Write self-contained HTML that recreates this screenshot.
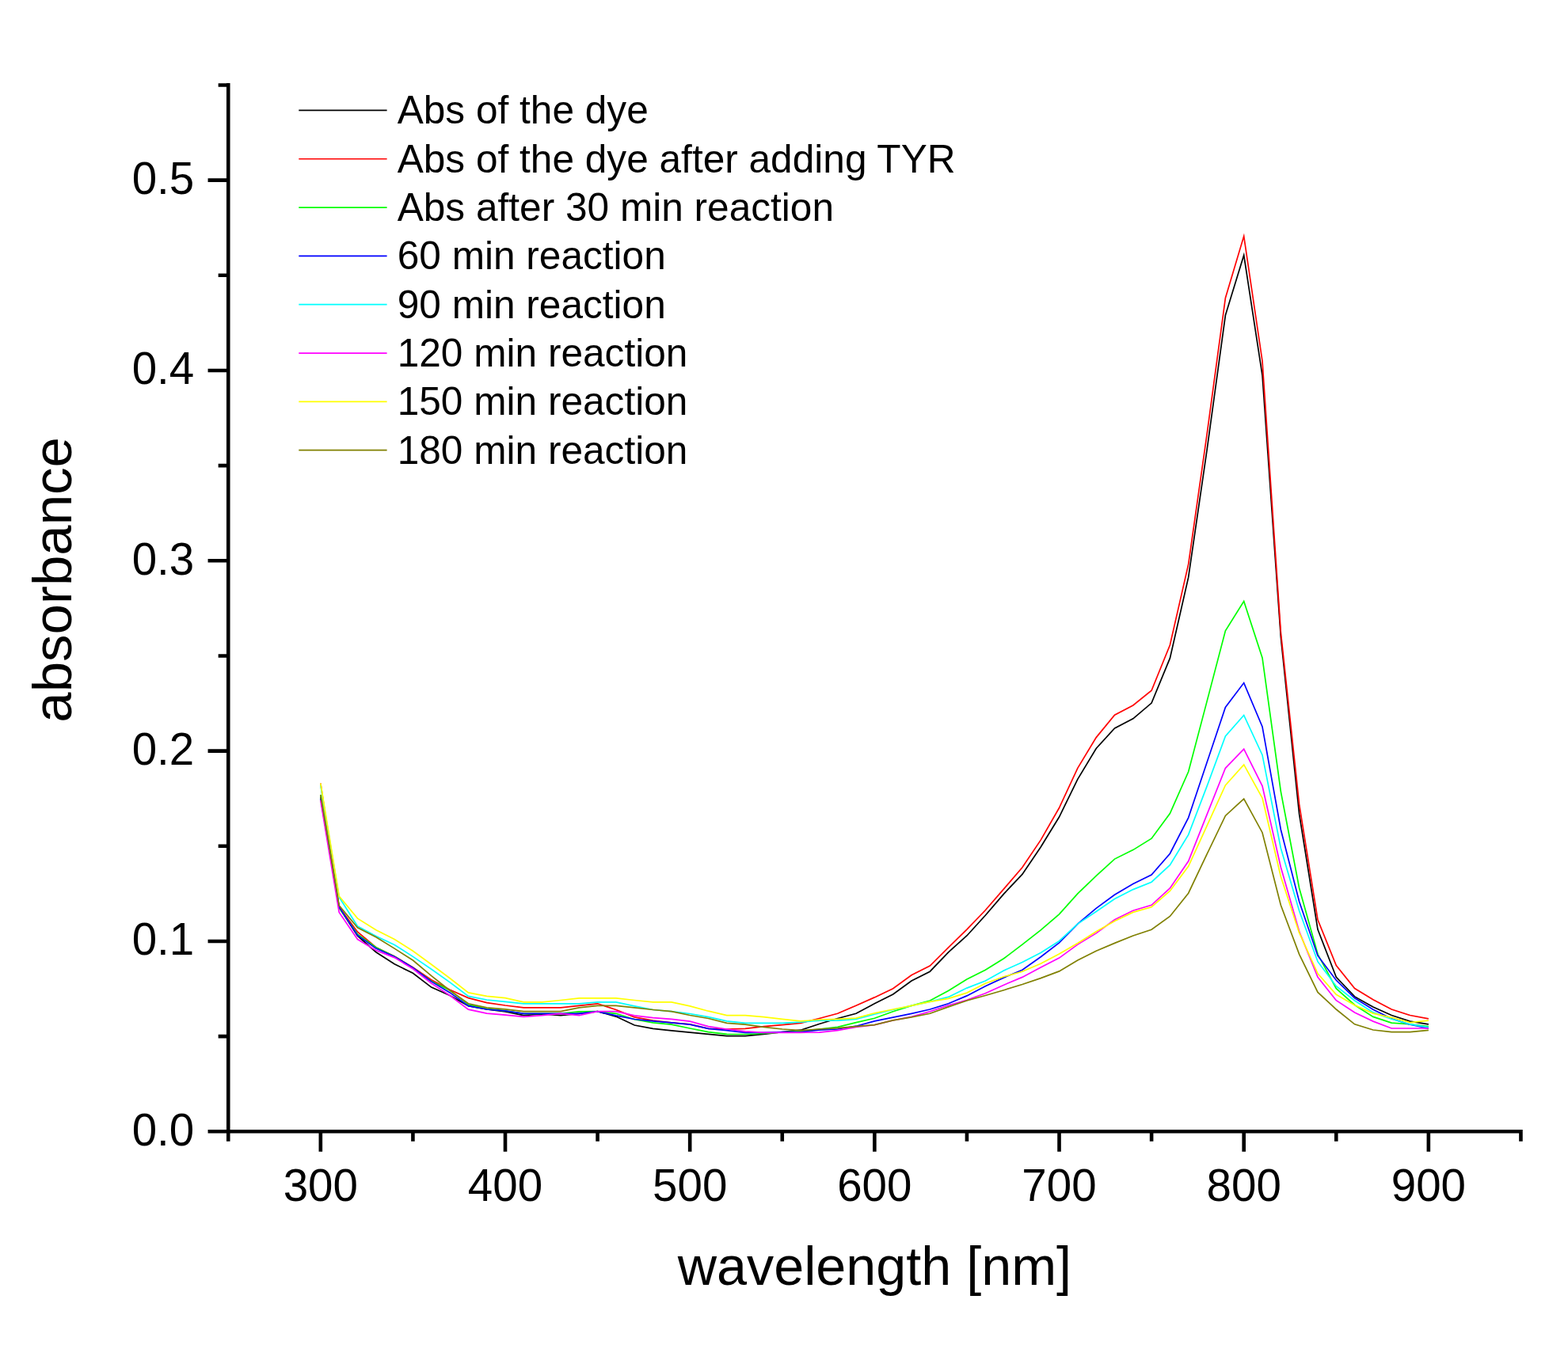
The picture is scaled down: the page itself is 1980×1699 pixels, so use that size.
<!DOCTYPE html><html><head><meta charset="utf-8"><title>absorbance vs wavelength</title><style>html,body{margin:0;padding:0;background:#fff;}svg{display:block;}text{font-family:'Liberation Sans', Arial, Helvetica, sans-serif;fill:#000;}</style></head><body>
<svg width="1980" height="1699" viewBox="0 0 1980 1699">
<rect width="1980" height="1699" fill="#fff"/>
<g fill="none" stroke-width="1.7" stroke-linejoin="miter" stroke-miterlimit="10">
<polyline stroke="#000000" points="404.8,1006.3 428.2,1146.2 451.5,1182.2 474.8,1202.7 498.1,1217.8 521.4,1229.3 544.7,1247.1 568.1,1257.5 591.4,1270.7 614.7,1275.0 638.0,1277.9 661.3,1282.7 684.6,1281.0 708.0,1282.7 731.3,1280.3 754.6,1277.7 777.9,1284.1 801.2,1295.0 824.5,1299.3 847.9,1301.9 871.2,1304.1 894.5,1306.3 917.8,1308.7 941.1,1308.7 964.4,1306.3 987.8,1303.6 1011.1,1301.2 1034.4,1293.5 1057.7,1286.5 1081.0,1280.3 1104.3,1267.8 1127.7,1256.0 1151.0,1239.0 1174.3,1227.2 1197.6,1202.9 1220.9,1182.0 1244.3,1156.3 1267.6,1129.1 1290.9,1104.4 1314.2,1070.0 1337.5,1032.0 1360.8,984.4 1384.2,945.5 1407.5,920.0 1430.8,907.8 1454.1,888.1 1477.4,831.4 1500.7,729.2 1524.1,568.4 1547.4,398.3 1570.7,322.3 1594.0,474.0 1617.3,804.4 1640.6,1028.2 1664.0,1174.1 1687.3,1234.4 1710.6,1258.9 1733.9,1272.1 1757.2,1282.5 1780.5,1290.1 1803.9,1293.8"/>
<polyline stroke="#ff0000" points="404.8,989.5 428.2,1145.7 451.5,1177.2 474.8,1196.7 498.1,1208.0 521.4,1221.9 544.7,1237.8 568.1,1250.3 591.4,1260.6 614.7,1266.6 638.0,1270.0 661.3,1272.8 684.6,1272.8 708.0,1272.8 731.3,1270.4 754.6,1267.8 777.9,1275.5 801.2,1284.9 824.5,1289.2 847.9,1291.8 871.2,1293.8 894.5,1299.3 917.8,1300.0 941.1,1299.3 964.4,1296.6 987.8,1294.7 1011.1,1292.3 1034.4,1286.5 1057.7,1280.3 1081.0,1270.2 1104.3,1259.9 1127.7,1248.8 1151.0,1231.7 1174.3,1220.0 1197.6,1196.9 1220.9,1174.1 1244.3,1149.8 1267.6,1122.9 1290.9,1095.7 1314.2,1061.1 1337.5,1020.5 1360.8,970.3 1384.2,931.6 1407.5,903.2 1430.8,891.0 1454.1,872.2 1477.4,814.8 1500.7,712.6 1524.1,548.3 1547.4,376.4 1570.7,298.3 1594.0,456.0 1617.3,798.4 1640.6,1015.9 1664.0,1161.8 1687.3,1219.5 1710.6,1248.6 1733.9,1262.8 1757.2,1275.0 1780.5,1282.5 1803.9,1286.8"/>
<polyline stroke="#00ff00" points="404.8,1003.9 428.2,1146.9 451.5,1180.1 474.8,1196.7 498.1,1208.2 521.4,1222.6 544.7,1239.4 568.1,1251.0 591.4,1268.8 614.7,1274.3 638.0,1276.9 661.3,1280.3 684.6,1280.3 708.0,1280.3 731.3,1277.9 754.6,1277.7 777.9,1280.3 801.2,1287.7 824.5,1291.8 847.9,1294.2 871.2,1299.0 894.5,1303.6 917.8,1306.3 941.1,1306.5 964.4,1305.5 987.8,1303.8 1011.1,1302.6 1034.4,1300.0 1057.7,1297.4 1081.0,1291.6 1104.3,1286.3 1127.7,1277.7 1151.0,1270.4 1174.3,1264.0 1197.6,1251.5 1220.9,1237.0 1244.3,1225.3 1267.6,1210.8 1290.9,1193.1 1314.2,1174.8 1337.5,1154.8 1360.8,1128.9 1384.2,1106.3 1407.5,1085.1 1430.8,1073.6 1454.1,1059.2 1477.4,1027.5 1500.7,974.8 1524.1,885.9 1547.4,796.8 1570.7,759.5 1594.0,830.9 1617.3,999.6 1640.6,1121.7 1664.0,1205.3 1687.3,1248.6 1710.6,1269.5 1733.9,1284.4 1757.2,1292.1 1780.5,1293.8 1803.9,1296.6"/>
<polyline stroke="#0000ff" points="404.8,1008.7 428.2,1145.7 451.5,1181.5 474.8,1198.1 498.1,1208.4 521.4,1222.4 544.7,1239.9 568.1,1253.9 591.4,1270.7 614.7,1275.0 638.0,1276.9 661.3,1280.3 684.6,1280.3 708.0,1280.3 731.3,1280.3 754.6,1277.7 777.9,1282.9 801.2,1287.5 824.5,1289.9 847.9,1291.8 871.2,1294.2 894.5,1299.3 917.8,1301.7 941.1,1304.3 964.4,1304.3 987.8,1303.6 1011.1,1303.6 1034.4,1301.2 1057.7,1300.0 1081.0,1296.2 1104.3,1289.9 1127.7,1285.1 1151.0,1280.3 1174.3,1275.0 1197.6,1267.8 1220.9,1257.9 1244.3,1245.7 1267.6,1234.9 1290.9,1225.3 1314.2,1208.7 1337.5,1190.9 1360.8,1167.1 1384.2,1147.4 1407.5,1130.3 1430.8,1116.6 1454.1,1105.1 1477.4,1078.2 1500.7,1032.8 1524.1,963.1 1547.4,893.4 1570.7,862.6 1594.0,917.9 1617.3,1047.7 1640.6,1138.7 1664.0,1207.2 1687.3,1238.2 1710.6,1260.8 1733.9,1275.2 1757.2,1286.8 1780.5,1294.2 1803.9,1298.8"/>
<polyline stroke="#00ffff" points="404.8,991.9 428.2,1133.2 451.5,1170.0 474.8,1182.5 498.1,1193.5 521.4,1208.4 544.7,1224.3 568.1,1240.9 591.4,1258.4 614.7,1263.0 638.0,1265.4 661.3,1267.8 684.6,1267.8 708.0,1267.8 731.3,1267.8 754.6,1265.9 777.9,1265.9 801.2,1270.9 824.5,1275.5 847.9,1277.7 871.2,1280.5 894.5,1284.6 917.8,1289.9 941.1,1292.3 964.4,1292.3 987.8,1292.3 1011.1,1291.1 1034.4,1289.2 1057.7,1289.2 1081.0,1287.3 1104.3,1281.3 1127.7,1275.5 1151.0,1270.4 1174.3,1265.4 1197.6,1259.4 1220.9,1248.1 1244.3,1239.0 1267.6,1226.0 1290.9,1215.4 1314.2,1203.4 1337.5,1188.7 1360.8,1167.1 1384.2,1151.5 1407.5,1135.6 1430.8,1123.6 1454.1,1114.2 1477.4,1092.6 1500.7,1054.4 1524.1,993.1 1547.4,929.9 1570.7,903.5 1594.0,953.7 1617.3,1071.2 1640.6,1150.5 1664.0,1214.7 1687.3,1245.7 1710.6,1264.0 1733.9,1278.9 1757.2,1287.3 1780.5,1293.8 1803.9,1297.6"/>
<polyline stroke="#ff00ff" points="404.8,1011.1 428.2,1152.4 451.5,1186.6 474.8,1200.5 498.1,1209.6 521.4,1223.8 544.7,1242.1 568.1,1257.5 591.4,1275.2 614.7,1280.1 638.0,1282.2 661.3,1284.4 684.6,1282.7 708.0,1280.3 731.3,1282.7 754.6,1277.7 777.9,1277.7 801.2,1282.9 824.5,1285.6 847.9,1287.3 871.2,1290.1 894.5,1296.6 917.8,1300.0 941.1,1302.9 964.4,1304.3 987.8,1304.3 1011.1,1304.3 1034.4,1304.1 1057.7,1301.7 1081.0,1297.4 1104.3,1294.7 1127.7,1288.9 1151.0,1284.4 1174.3,1277.7 1197.6,1270.0 1220.9,1263.2 1244.3,1254.8 1267.6,1244.2 1290.9,1234.4 1314.2,1221.9 1337.5,1210.1 1360.8,1193.1 1384.2,1178.9 1407.5,1161.8 1430.8,1150.3 1454.1,1143.3 1477.4,1121.9 1500.7,1087.8 1524.1,1028.9 1547.4,970.3 1570.7,946.2 1594.0,992.9 1617.3,1095.2 1640.6,1176.5 1664.0,1234.4 1687.3,1263.7 1710.6,1278.9 1733.9,1290.1 1757.2,1299.0 1780.5,1299.0 1803.9,1299.0"/>
<polyline stroke="#ffff00" points="404.8,989.5 428.2,1132.0 451.5,1160.1 474.8,1174.8 498.1,1186.6 521.4,1201.2 544.7,1218.3 568.1,1235.8 591.4,1253.9 614.7,1258.4 638.0,1260.6 661.3,1265.9 684.6,1265.9 708.0,1263.5 731.3,1260.8 754.6,1260.8 777.9,1260.8 801.2,1263.5 824.5,1265.9 847.9,1265.9 871.2,1270.9 894.5,1277.2 917.8,1282.7 941.1,1282.7 964.4,1284.6 987.8,1287.3 1011.1,1289.9 1034.4,1288.0 1057.7,1287.3 1081.0,1286.1 1104.3,1279.8 1127.7,1275.0 1151.0,1270.4 1174.3,1265.4 1197.6,1261.3 1220.9,1254.1 1244.3,1242.3 1267.6,1233.7 1290.9,1227.2 1314.2,1217.3 1337.5,1205.1 1360.8,1191.4 1384.2,1176.7 1407.5,1163.5 1430.8,1152.4 1454.1,1145.7 1477.4,1125.5 1500.7,1094.3 1524.1,1043.1 1547.4,991.9 1570.7,965.9 1594.0,1008.0 1617.3,1107.3 1640.6,1178.2 1664.0,1229.8 1687.3,1256.3 1710.6,1269.7 1733.9,1280.1 1757.2,1285.3 1780.5,1291.6 1803.9,1289.2"/>
<polyline stroke="#808000" points="404.8,1003.9 428.2,1143.8 451.5,1171.7 474.8,1183.7 498.1,1198.1 521.4,1213.0 544.7,1232.7 568.1,1251.2 591.4,1267.8 614.7,1272.8 638.0,1274.8 661.3,1277.7 684.6,1277.7 708.0,1277.7 731.3,1272.8 754.6,1270.4 777.9,1270.4 801.2,1272.8 824.5,1275.5 847.9,1277.7 871.2,1282.5 894.5,1286.5 917.8,1292.3 941.1,1294.2 964.4,1297.4 987.8,1300.0 1011.1,1301.7 1034.4,1300.0 1057.7,1298.6 1081.0,1296.6 1104.3,1294.7 1127.7,1288.9 1151.0,1284.9 1174.3,1280.3 1197.6,1271.9 1220.9,1264.0 1244.3,1257.5 1267.6,1250.7 1290.9,1243.5 1314.2,1235.6 1337.5,1226.9 1360.8,1213.0 1384.2,1201.2 1407.5,1191.4 1430.8,1182.0 1454.1,1174.3 1477.4,1157.5 1500.7,1128.2 1524.1,1078.9 1547.4,1030.4 1570.7,1009.0 1594.0,1051.7 1617.3,1143.3 1640.6,1205.3 1664.0,1253.4 1687.3,1275.0 1710.6,1293.8 1733.9,1301.0 1757.2,1303.6 1780.5,1303.6 1803.9,1301.4"/>
</g>
<path d="M288.25,105.0V1441.80M285.95,1429.30H1922.75M262.55,1429.30H288.25M275.65,1309.13H288.25M262.55,1188.97H288.25M275.65,1068.80H288.25M262.55,948.64H288.25M275.65,828.47H288.25M262.55,708.31H288.25M275.65,588.14H288.25M262.55,467.98H288.25M275.65,347.81H288.25M262.55,227.65H288.25M275.65,107.48H288.25M288.25,1429.30V1441.80M404.84,1429.30V1454.70M521.42,1429.30V1441.80M638.01,1429.30V1454.70M754.59,1429.30V1441.80M871.18,1429.30V1454.70M987.76,1429.30V1441.80M1104.35,1429.30V1454.70M1220.94,1429.30V1441.80M1337.52,1429.30V1454.70M1454.11,1429.30V1441.80M1570.69,1429.30V1454.70M1687.28,1429.30V1441.80M1803.86,1429.30V1454.70M1920.45,1429.30V1441.80" stroke="#000" stroke-width="4.6" fill="none" stroke-linecap="butt"/>
<g font-size="56.5" text-anchor="end">
<text x="245.2" y="1446.7">0.0</text>
<text x="245.2" y="1206.4">0.1</text>
<text x="245.2" y="966.0">0.2</text>
<text x="245.2" y="725.7">0.3</text>
<text x="245.2" y="485.4">0.4</text>
<text x="245.2" y="245.0">0.5</text>
</g>
<g font-size="56.5" text-anchor="middle">
<text x="404.8" y="1517.0">300</text>
<text x="638.0" y="1517.0">400</text>
<text x="871.2" y="1517.0">500</text>
<text x="1104.3" y="1517.0">600</text>
<text x="1337.5" y="1517.0">700</text>
<text x="1570.7" y="1517.0">800</text>
<text x="1803.9" y="1517.0">900</text>
</g>
<text x="1104.4" y="1622.8" font-size="68.3" text-anchor="middle">wavelength [nm]</text>
<text transform="translate(90.0,732.4) rotate(-90)" x="0" y="0" font-size="69.0" text-anchor="middle">absorbance</text>
<g font-size="49.6">
<path d="M377.3,139.40H488.6" stroke="#000000" stroke-width="1.7"/>
<text x="501.7" y="156.2">Abs of the dye</text>
<path d="M377.3,200.73H488.6" stroke="#ff0000" stroke-width="1.7"/>
<text x="501.7" y="217.5">Abs of the dye after adding TYR</text>
<path d="M377.3,262.06H488.6" stroke="#00ff00" stroke-width="1.7"/>
<text x="501.7" y="278.9">Abs after 30 min reaction</text>
<path d="M377.3,323.39H488.6" stroke="#0000ff" stroke-width="1.7"/>
<text x="501.7" y="340.2">60 min reaction</text>
<path d="M377.3,384.72H488.6" stroke="#00ffff" stroke-width="1.7"/>
<text x="501.7" y="401.5">90 min reaction</text>
<path d="M377.3,446.05H488.6" stroke="#ff00ff" stroke-width="1.7"/>
<text x="501.7" y="462.8">120 min reaction</text>
<path d="M377.3,507.38H488.6" stroke="#ffff00" stroke-width="1.7"/>
<text x="501.7" y="524.2">150 min reaction</text>
<path d="M377.3,568.71H488.6" stroke="#808000" stroke-width="1.7"/>
<text x="501.7" y="585.5">180 min reaction</text>
</g>
</svg></body></html>
